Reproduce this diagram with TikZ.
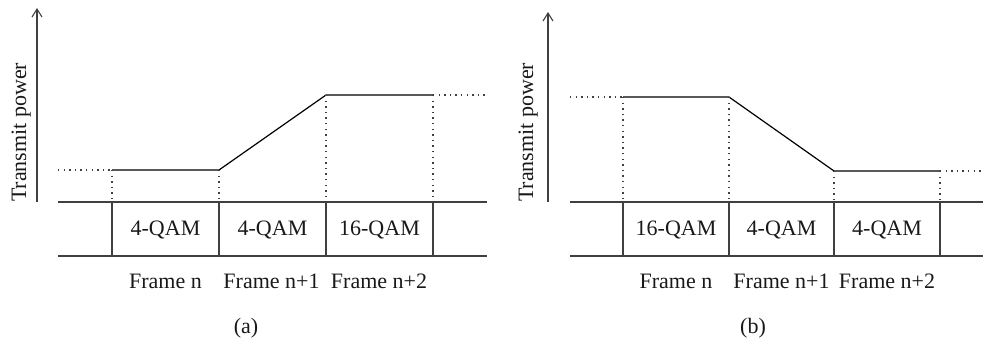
\documentclass[tikz,border=0pt]{standalone}
\usepackage{fontspec}
\setmainfont{Liberation Serif}
\usetikzlibrary{arrows.meta}
\tikzset{
  ln/.style={line width=1.1pt, draw=black!75},
  dots/.style={line width=1.3pt, draw=black!75, dash pattern=on 1.4pt off 4.2pt},
  curve/.style={line width=1.2pt, draw=black},
  axis/.style={line width=1.1pt, draw=black!75, -{Straight Barb[length=8pt,width=10pt,line width=1.1pt]}},
  lbl/.style={inner sep=0pt, anchor=base, font=\fontsize{22}{24}\selectfont, text=black!90},
  ylbl/.style={inner sep=0pt, anchor=base west, rotate=90, font=\fontsize{22}{24}\selectfont, text=black!90}
}
\begin{document}
\begin{tikzpicture}[x=1pt,y=-1pt]
\useasboundingbox (0,0) rectangle (983,343);
% ---------- panel (a) ----------
\coordinate (a0) at (37,202); \coordinate (a1) at (37,8);
\draw[axis] (a0) -- (a1);
\node[ylbl] (ya) at (26,202) {Transmit power};
\coordinate (aT0) at (58,202); \coordinate (aT1) at (487,202);
\coordinate (aB0) at (58,256); \coordinate (aB1) at (487,256);
\draw[ln] (aT0) -- (aT1);
\draw[ln] (aB0) -- (aB1);
\foreach \x/\n in {112/1,219/2,326/3,433/4}{
  \coordinate (av\n t) at (\x,202); \coordinate (av\n b) at (\x,256);
  \draw[ln] (av\n t) -- (av\n b);
}
\coordinate (ap0) at (58,170); \coordinate (ap1) at (112,170);
\coordinate (ap2) at (219,170); \coordinate (ap3) at (326,95);
\coordinate (ap4) at (433,95); \coordinate (ap5) at (487,95);
\draw[dots] (ap0) -- (ap1);
\draw[dots] (ap4) -- (ap5);
\draw[curve] (ap1) -- (ap2) -- (ap3) -- (ap4);
\draw[dots] (ap1) -- (av1t);
\draw[dots] (ap2) -- (av2t);
\draw[dots] (ap3) -- (av3t);
\draw[dots] (ap4) -- (av4t);
\node[lbl] (aq1) at (165.5,235) {4-QAM};
\node[lbl] (aq2) at (272.5,235) {4-QAM};
\node[lbl] (aq3) at (379.5,235) {16-QAM};
\node[lbl] (af1) at (165.5,288) {Frame n};
\node[lbl] (af2) at (271.5,288) {Frame n+1};
\node[lbl] (af3) at (379,288) {Frame n+2};
\node[lbl] (capa) at (246,333) {(a)};
% ---------- panel (b) ----------
\coordinate (b0) at (548,202); \coordinate (b1) at (548,12);
\draw[axis] (b0) -- (b1);
\node[ylbl] (yb) at (533,202) {Transmit power};
\coordinate (bT0) at (570,202); \coordinate (bT1) at (983,202);
\coordinate (bB0) at (570,256); \coordinate (bB1) at (983,256);
\draw[ln] (bT0) -- (bT1);
\draw[ln] (bB0) -- (bB1);
\foreach \x/\n in {623/1,729/2,834/3,940/4}{
  \coordinate (bv\n t) at (\x,202); \coordinate (bv\n b) at (\x,256);
  \draw[ln] (bv\n t) -- (bv\n b);
}
\coordinate (bp0) at (570,97); \coordinate (bp1) at (623,97);
\coordinate (bp2) at (729,97); \coordinate (bp3) at (834,171);
\coordinate (bp4) at (940,171); \coordinate (bp5) at (983,171);
\draw[dots] (bp0) -- (bp1);
\draw[dots] (bp4) -- (bp5);
\draw[curve] (bp1) -- (bp2) -- (bp3) -- (bp4);
\draw[dots] (bp1) -- (bv1t);
\draw[dots] (bp2) -- (bv2t);
\draw[dots] (bp3) -- (bv3t);
\draw[dots] (bp4) -- (bv4t);
\node[lbl] (bq1) at (676,235) {16-QAM};
\node[lbl] (bq2) at (781.5,235) {4-QAM};
\node[lbl] (bq3) at (887,235) {4-QAM};
\node[lbl] (bf1) at (676,288) {Frame n};
\node[lbl] (bf2) at (781.5,288) {Frame n+1};
\node[lbl] (bf3) at (887,288) {Frame n+2};
\node[lbl] (capb) at (753,333) {(b)};
\end{tikzpicture}
\end{document}
